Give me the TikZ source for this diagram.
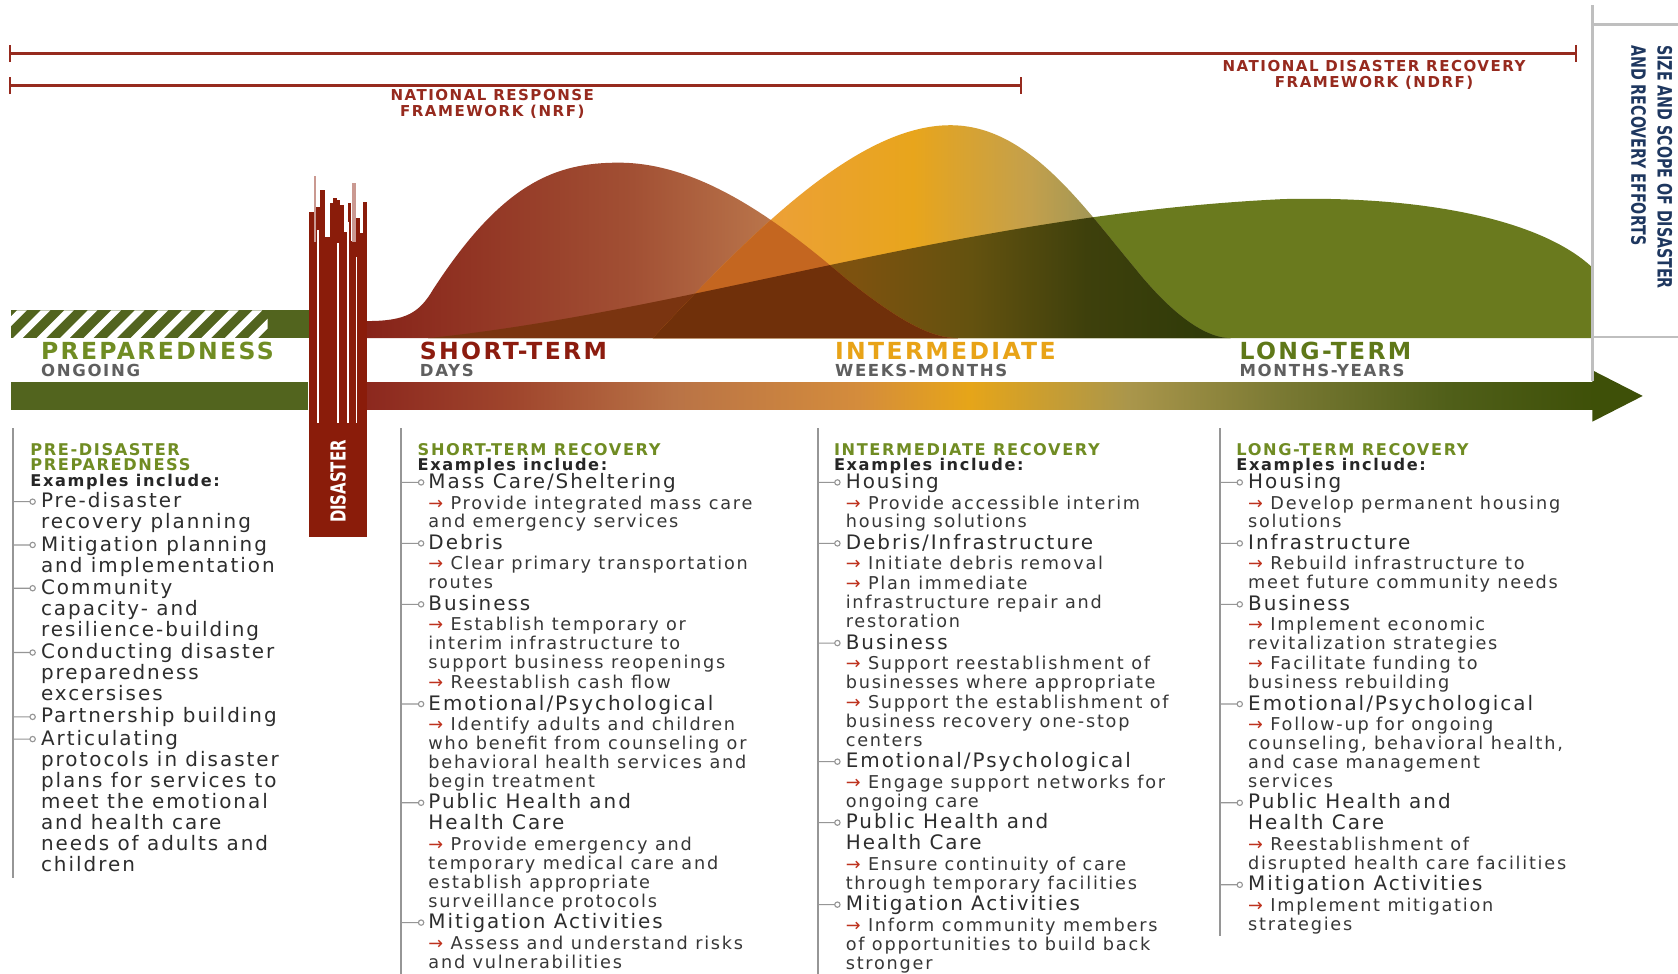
\documentclass[tikz,border=0pt]{standalone}
\usepackage{fontspec}
\setmainfont{DejaVu Sans}[LetterSpace=10]
\newfontfamily\narrowfont{DejaVu Sans}[FakeStretch=0.72]
\usetikzlibrary{arrows.meta}

\definecolor{ltgreen}{RGB}{106,122,30}
\definecolor{stA}{RGB}{135,35,25}
\definecolor{stB}{RGB}{162,80,52}
\definecolor{stC}{RGB}{195,132,84}
\definecolor{itA}{RGB}{222,118,38}
\definecolor{itB}{RGB}{236,160,55}
\definecolor{itC}{RGB}{232,165,28}
\definecolor{itD}{RGB}{196,160,75}
\definecolor{itE}{RGB}{150,148,90}
\definecolor{itF}{RGB}{120,128,60}
\definecolor{igA}{RGB}{135,70,15}
\definecolor{igB}{RGB}{125,82,15}
\definecolor{igC}{RGB}{100,82,15}
\definecolor{igD}{RGB}{62,64,12}
\definecolor{igE}{RGB}{45,58,8}
\definecolor{stgreen}{RGB}{122,52,16}
\definecolor{itst}{RGB}{196,102,32}
\definecolor{itstg}{RGB}{112,48,10}
\definecolor{prepgreen}{RGB}{82,100,30}
\definecolor{arA}{RGB}{140,40,30}
\definecolor{arB}{RGB}{160,70,45}
\definecolor{arC}{RGB}{185,115,70}
\definecolor{arD}{RGB}{212,140,60}
\definecolor{arE}{RGB}{230,165,25}
\definecolor{arF}{RGB}{170,150,75}
\definecolor{arG}{RGB}{120,120,50}
\definecolor{arH}{RGB}{80,95,25}
\definecolor{arI}{RGB}{62,80,8}
\definecolor{arrhead}{RGB}{62,80,8}
\definecolor{disred}{RGB}{138,28,10}
\definecolor{fwred}{RGB}{150,42,30}
\definecolor{sizeblue}{RGB}{30,55,95}
\definecolor{hdgreen}{RGB}{112,140,35}
\definecolor{strd}{RGB}{140,28,15}
\definecolor{itgold}{RGB}{232,163,23}
\definecolor{ltgreen2}{RGB}{95,120,25}
\definecolor{subgray}{RGB}{95,95,95}
\definecolor{txtgray}{RGB}{45,45,45}
\definecolor{subtxt}{RGB}{55,55,55}
\definecolor{arrred}{RGB}{190,50,30}
\definecolor{linegray}{RGB}{150,150,150}

% shadings: the middle 25bp..75bp spans the path
\pgfdeclarehorizontalshading{stshade}{100bp}{color(0bp)=(stA); color(25bp)=(stA); color(47.5bp)=(stB); color(64bp)=(stC); color(100bp)=(stC)}
\pgfdeclarehorizontalshading{itshade}{100bp}{color(0bp)=(itA); color(25bp)=(itA); color(35bp)=(itB); color(47.5bp)=(itC); color(57.5bp)=(itD); color(65bp)=(itE); color(75bp)=(itF); color(100bp)=(itF)}
\pgfdeclarehorizontalshading{itgshade}{100bp}{color(0bp)=(igA); color(25bp)=(igA); color(42.5bp)=(igB); color(52.5bp)=(igC); color(62.5bp)=(igD); color(75bp)=(igE); color(100bp)=(igE)}
\pgfdeclarehorizontalshading{arrshade}{100bp}{color(0bp)=(arA); color(25bp)=(arA); color(31bp)=(arB); color(37.5bp)=(arC); color(45bp)=(arD); color(49.5bp)=(arE); color(56bp)=(arF); color(62.5bp)=(arG); color(69bp)=(arH); color(75bp)=(arI); color(100bp)=(arI)}

\newcommand{\itemfont}{\fontsize{10.6}{11.2}\selectfont}
\newcommand{\subfont}{\fontsize{9.4}{10.05}\selectfont}
\newcommand{\hdfont}{\fontsize{8.6}{8.2}\selectfont\bfseries}
\newcommand{\redarr}{{\color{arrred}→}\ }

% hump outlines
\def\pathLT{(400,316) .. controls (650,290) and (900,200) .. (1200,186) .. controls (1330,183) and (1440,205) .. (1488,250) -- (1488,316) -- cycle}
\def\pathST{(343,316) -- (343,300) .. controls (380,300) and (392,292) .. (405,270) .. controls (470,170) and (520,152) .. (578,152) .. controls (650,152) and (720,200) .. (790,260) .. controls (840,300) and (870,316) .. (895,316) -- cycle}
\def\pathIT{(610,316) .. controls (700,220) and (800,117) .. (888,117) .. controls (960,117) and (1010,190) .. (1060,250) .. controls (1100,300) and (1130,316) .. (1150,316) -- cycle}

\tikzset{
  itm/.style={anchor=north west, inner sep=0pt, align=left, font=\itemfont, text=txtgray,
    execute at begin node=\strut, execute at end node=\strut},
  subitm/.style={itm, font=\subfont, text=subtxt},
  hd/.style={anchor=north west, inner sep=0pt, align=left, font=\hdfont, text=black!85},
  colline/.style={draw=linegray, line width=1.1pt},
  bulline/.style={draw=linegray, line width=0.6pt},
  bracket/.style={draw=fwred, line width=1.2pt},
  fwlbl/.style={font=\fontsize{8}{8.5}\selectfont\bfseries, text=fwred, align=center},
  bandttl/.style={anchor=base west, inner sep=0pt, font=\fontsize{12.5}{12.5}\selectfont\bfseries},
  bandsub/.style={anchor=base west, inner sep=0pt, font=\fontsize{8.8}{8.8}\selectfont\bfseries, text=subgray},
  sepline/.style={draw=black!25, line width=1.2pt}
}

% small tick and ring in front of an item
\newcommand{\bul}[2]{%
  \coordinate (bp) at ([yshift=-5pt]#2.north west);
  \draw[bulline] (#1 |- bp) -- ++(16,0) ++(2.5,0) circle (2.5);}

\begin{document}
\begin{tikzpicture}[x=0.02cm, y=-0.02cm]
  \path[fill=white, use as bounding box] (0,0) rectangle (1568,910);

  % humps
  \fill[ltgreen] \pathLT;
  \shade[shading=stshade] \pathST;
  \shade[shading=itshade] \pathIT;
  \begin{scope}
    \clip \pathLT;
    \fill[stgreen] \pathST;
    \shade[shading=itgshade] \pathIT;
  \end{scope}
  \begin{scope}
    \clip \pathST;
    \fill[itst] \pathIT;
    \clip \pathLT;
    \fill[itstg] \pathIT;
  \end{scope}

  % preparedness bar
  \fill[prepgreen] (10,290) rectangle (290,316);
  \begin{scope}
    \clip (10,290) rectangle (250,316);
    \foreach \x in {-10,12,...,250}
      \fill[white] (\x,316) -- (\x+9,316) -- (\x+35,290) -- (\x+26,290) -- cycle;
  \end{scope}

  % time arrow
  \fill[prepgreen] (10,357) rectangle (288,383);
  \shade[shading=arrshade] (343,357) rectangle (1490,383);
  \fill[arrhead] (1488,346) -- (1535,370) -- (1488,394) -- cycle;

  % disaster bar
  \fill[disred] (289,225) rectangle (343,502);
  \foreach \a/\b/\t in {289/294/198, 295/299/193, 299/304/178, 304/308/221, 308/311/190,
      311/315/185, 315/318/187, 318/321/192, 321/325/217, 325/328/190, 332/336/204,
      336/339/218, 339/343/189}
    \fill[disred] (\a,\t) rectangle (\b,226);
  \foreach \a/\b/\t in {293/295/164, 329/333/171}
    \fill[disred!45] (\a,\t) rectangle (\b,226);
  \foreach \x/\t in {297/215, 316/227, 325/207, 333/240}
    \draw[white, line width=0.8pt] (\x,\t) -- (\x,395);
  \node[rotate=90, font=\fontsize{11}{11}\narrowfont\bfseries, text=white] (dis) at (316,450) {DISASTER};

  % frameworks
  \coordinate (ndrfL) at (8,50);
  \coordinate (ndrfR) at (1474,50);
  \coordinate (nrfL) at (8,80);
  \coordinate (nrfR) at (955,80);
  \draw[bracket, {Bar[width=0.32cm]}-{Bar[width=0.32cm]}] (ndrfL) -- (ndrfR);
  \draw[bracket, {Bar[width=0.32cm]}-{Bar[width=0.32cm]}] (nrfL) -- (nrfR);
  \node[fwlbl] (nrf) at (460,97) {NATIONAL RESPONSE\\FRAMEWORK (NRF)};
  \node[fwlbl] (ndrf) at (1284,70) {NATIONAL DISASTER RECOVERY\\FRAMEWORK (NDRF)};

  % size and scope panel
  \draw[sepline] (1488,5) -- (1488,356);
  \draw[sepline] (1488,23) -- (1568,23);
  \draw[sepline] (1488,315) -- (1568,315);
  \node[rotate=-90, anchor=north west, align=left, inner sep=0pt,
    font=\fontsize{10.5}{14}\narrowfont\bfseries, text=sizeblue] (size) at (1563,42)
    {SIZE AND SCOPE OF DISASTER\\AND RECOVERY EFFORTS};

  % phase labels
  \node[bandttl, text=hdgreen] (prep) at (38,336) {PREPAREDNESS};
  \node[bandsub] (prepsub) at (38,352) {ONGOING};
  \node[bandttl, text=strd] (st) at (392,336) {SHORT-TERM};
  \node[bandsub] (stsub) at (392,352) {DAYS};
  \node[bandttl, text=itgold] (it) at (780,336) {INTERMEDIATE};
  \node[bandsub] (itsub) at (780,352) {WEEKS-MONTHS};
  \node[bandttl, text=ltgreen2] (lt) at (1158,336) {LONG-TERM};
  \node[bandsub] (ltsub) at (1158,352) {MONTHS-YEARS};

  % column 1
  \coordinate (l1) at (12,400);
  \node[hd] (h1) at (28,414) {\textcolor{hdgreen}{PRE-DISASTER}\\\textcolor{hdgreen}{PREPAREDNESS}\\Examples include:};
  \node[itm] (pp1) at (38,460) {Pre-disaster\\recovery planning};
  \node[itm] (pp2) at (pp1.south west) {Mitigation planning\\and implementation};
  \node[itm] (pp3) at (pp2.south west) {Community\\capacity- and\\resilience-building};
  \node[itm] (pp4) at (pp3.south west) {Conducting disaster\\preparedness\\excersises};
  \node[itm] (pp5) at (pp4.south west) {Partnership building};
  \node[itm] (pp6) at (pp5.south west) {Articulating\\protocols in disaster\\plans for services to\\meet the emotional\\and health care\\needs of adults and\\children};
  \draw[colline] (l1) -- (l1 |- pp6.south);
  \foreach \n in {pp1,pp2,pp3,pp4,pp5,pp6} \bul{l1}{\n};

  % column 2
  \coordinate (l2) at (375,400);
  \node[hd] (h2) at (390,414) {\textcolor{hdgreen}{SHORT-TERM RECOVERY}\\Examples include:};
  \node[itm] (st1) at (400,442) {Mass Care/Sheltering};
  \node[subitm] (st1a) at (st1.south west) {\redarr Provide integrated mass care\\and emergency services};
  \node[itm] (st2) at (st1a.south west) {Debris};
  \node[subitm] (st2a) at (st2.south west) {\redarr Clear primary transportation\\routes};
  \node[itm] (st3) at (st2a.south west) {Business};
  \node[subitm] (st3a) at (st3.south west) {\redarr Establish temporary or\\interim infrastructure to\\support business reopenings};
  \node[subitm] (st3b) at (st3a.south west) {\redarr Reestablish cash flow};
  \node[itm] (st4) at (st3b.south west) {Emotional/Psychological};
  \node[subitm] (st4a) at (st4.south west) {\redarr Identify adults and children\\who benefit from counseling or\\behavioral health services and\\begin treatment};
  \node[itm] (st5) at (st4a.south west) {Public Health and\\Health Care};
  \node[subitm] (st5a) at (st5.south west) {\redarr Provide emergency and\\temporary medical care and\\establish appropriate\\surveillance protocols};
  \node[itm] (st6) at (st5a.south west) {Mitigation Activities};
  \node[subitm] (st6a) at (st6.south west) {\redarr Assess and understand risks\\and vulnerabilities};
  \draw[colline] (l2) -- (l2 |- st6a.south);
  \foreach \n in {st1,st2,st3,st4,st5,st6} \bul{l2}{\n};

  % column 3
  \coordinate (l3) at (764,400);
  \node[hd] (h3) at (779,414) {\textcolor{hdgreen}{INTERMEDIATE RECOVERY}\\Examples include:};
  \node[itm] (it1) at (790,442) {Housing};
  \node[subitm] (it1a) at (it1.south west) {\redarr Provide accessible interim\\housing solutions};
  \node[itm] (it2) at (it1a.south west) {Debris/Infrastructure};
  \node[subitm] (it2a) at (it2.south west) {\redarr Initiate debris removal};
  \node[subitm] (it2b) at (it2a.south west) {\redarr Plan immediate\\infrastructure repair and\\restoration};
  \node[itm] (it3) at (it2b.south west) {Business};
  \node[subitm] (it3a) at (it3.south west) {\redarr Support reestablishment of\\businesses where appropriate};
  \node[subitm] (it3b) at (it3a.south west) {\redarr Support the establishment of\\business recovery one-stop\\centers};
  \node[itm] (it4) at (it3b.south west) {Emotional/Psychological};
  \node[subitm] (it4a) at (it4.south west) {\redarr Engage support networks for\\ongoing care};
  \node[itm] (it5) at (it4a.south west) {Public Health and\\Health Care};
  \node[subitm] (it5a) at (it5.south west) {\redarr Ensure continuity of care\\through temporary facilities};
  \node[itm] (it6) at (it5a.south west) {Mitigation Activities};
  \node[subitm] (it6a) at (it6.south west) {\redarr Inform community members\\of opportunities to build back\\stronger};
  \draw[colline] (l3) -- (l3 |- it6a.south);
  \foreach \n in {it1,it2,it3,it4,it5,it6} \bul{l3}{\n};

  % column 4
  \coordinate (l4) at (1140,400);
  \node[hd] (h4) at (1155,414) {\textcolor{hdgreen}{LONG-TERM RECOVERY}\\Examples include:};
  \node[itm] (lt1) at (1166,442) {Housing};
  \node[subitm] (lt1a) at (lt1.south west) {\redarr Develop permanent housing\\solutions};
  \node[itm] (lt2) at (lt1a.south west) {Infrastructure};
  \node[subitm] (lt2a) at (lt2.south west) {\redarr Rebuild infrastructure to\\meet future community needs};
  \node[itm] (lt3) at (lt2a.south west) {Business};
  \node[subitm] (lt3a) at (lt3.south west) {\redarr Implement economic\\revitalization strategies};
  \node[subitm] (lt3b) at (lt3a.south west) {\redarr Facilitate funding to\\business rebuilding};
  \node[itm] (lt4) at (lt3b.south west) {Emotional/Psychological};
  \node[subitm] (lt4a) at (lt4.south west) {\redarr Follow-up for ongoing\\counseling, behavioral health,\\and case management\\services};
  \node[itm] (lt5) at (lt4a.south west) {Public Health and\\Health Care};
  \node[subitm] (lt5a) at (lt5.south west) {\redarr Reestablishment of\\disrupted health care facilities};
  \node[itm] (lt6) at (lt5a.south west) {Mitigation Activities};
  \node[subitm] (lt6a) at (lt6.south west) {\redarr Implement mitigation\\strategies};
  \draw[colline] (l4) -- (l4 |- lt6a.south);
  \foreach \n in {lt1,lt2,lt3,lt4,lt5,lt6} \bul{l4}{\n};
\end{tikzpicture}
\end{document}
